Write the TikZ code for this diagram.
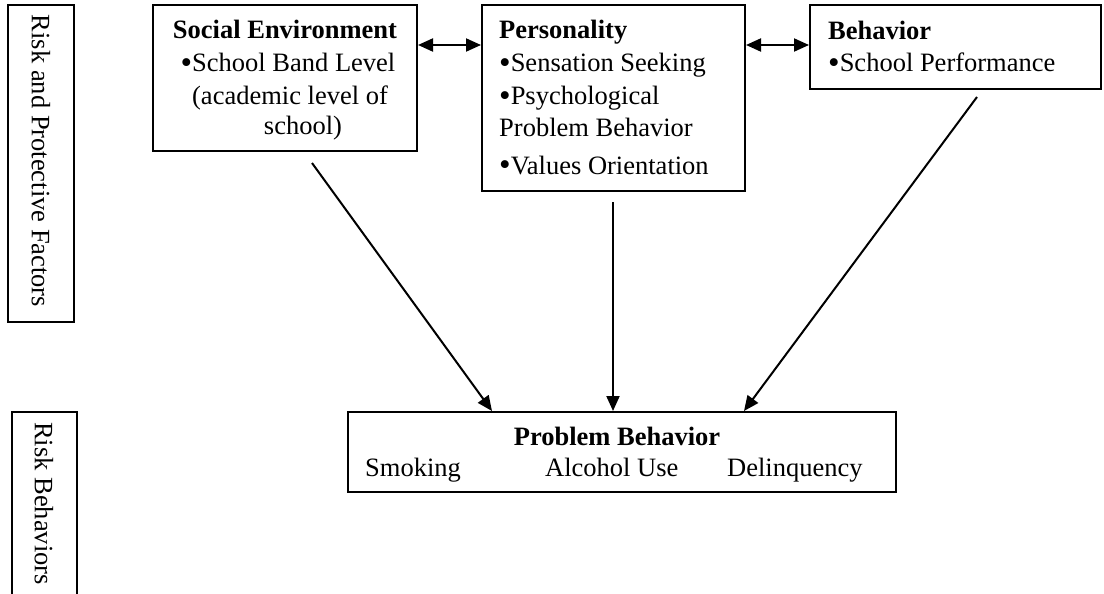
\documentclass[tikz,border=0pt]{standalone}
\usepackage{fontspec}
\setmainfont{Liberation Serif}
\usetikzlibrary{arrows.meta,calc}
\newcommand{\bulmark}{\raisebox{-1.5pt}{\fontsize{33}{33}\selectfont•}}
\begin{document}
\begin{tikzpicture}[x=1pt,y=-1pt,
  box/.style={draw,line width=2pt,rectangle,inner sep=0pt},
  txt/.style={inner sep=0pt,font=\fontsize{26.5}{31.5}\selectfont},
  btxt/.style={txt,font=\fontsize{26.5}{31.5}\selectfont\bfseries},
  arr/.style={line width=2pt,-{Triangle[length=15pt,width=13pt]}},
  darr/.style={line width=2pt,{Triangle[length=15pt,width=13pt]}-{Triangle[length=15pt,width=13pt]}}]
\clip (0,0) rectangle (1104,594);
\fill[white] (0,0) rectangle (1104,594);
% side boxes
\node[box,minimum width=66pt,minimum height=317pt] (rpf) at (41,163.5) {};
\node[txt,rotate=-90] (rpft) at (41,161) {Risk and Protective Factors};
\node[box,minimum width=65pt,minimum height=198pt] (rb) at (44.5,511) {};
\node[txt,rotate=-90,anchor=west] (rbt) at (44,422) {Risk Behaviors};
% social environment
\node[box,minimum width=264pt,minimum height=146pt] (soc) at (285,78) {};
\node[btxt,anchor=base] (soc1) at (285,39) {Social Environment};
\node[txt,anchor=base] (soc2) at (288,72) {\bulmark School Band Level};
\node[txt,anchor=base] (soc3) at (290,104) {(academic level of};
\node[txt,anchor=base] (soc4) at (303,135) {school)};
% personality
\node[box,minimum width=263pt,minimum height=186pt] (pers) at (613.5,98) {};
\node[btxt,anchor=base west] (p1) at (499,39) {Personality};
\node[txt,anchor=base west] (p2) at (499,72) {\bulmark Sensation Seeking};
\node[txt,anchor=base west] (p3) at (499,105) {\bulmark Psychological};
\node[txt,anchor=base west] (p4) at (499,136) {Problem Behavior};
\node[txt,anchor=base west] (p5) at (499,174) {\bulmark Values Orientation};
% behavior
\node[box,minimum width=291pt,minimum height=84pt] (beh) at (955.5,47) {};
\node[btxt,anchor=base west] (b1) at (828,40) {Behavior};
\node[txt,anchor=base west] (b2) at (828,72) {\bulmark School Performance};
% problem behavior
\node[box,minimum width=548pt,minimum height=80pt] (pb) at (622,452) {};
\node[btxt,anchor=base] (pb1) at (617,445) {Problem Behavior};
\node[txt,anchor=base west] (pb2) at (365,476) {Smoking};
\node[txt,anchor=base west] (pb3) at (545,476) {Alcohol Use};
\node[txt,anchor=base west] (pb4) at (727,476) {Delinquency};
% connectors
\coordinate (lvl) at (0,45);
\draw[darr] (soc.east |- lvl) -- (pers.west |- lvl);
\draw[darr] (pers.east |- lvl) -- (beh.west |- lvl);
\coordinate (s1) at (312,163);
\coordinate (s2) at (613,202);
\coordinate (s3) at (977,97);
\draw[arr] (s1) -- ($(pb.north west)+(145,0)$);
\draw[arr] (s2) -- (s2 |- pb.north);
\draw[arr] (s3) -- ($(pb.north west)+(397,0)$);
\end{tikzpicture}
\end{document}
